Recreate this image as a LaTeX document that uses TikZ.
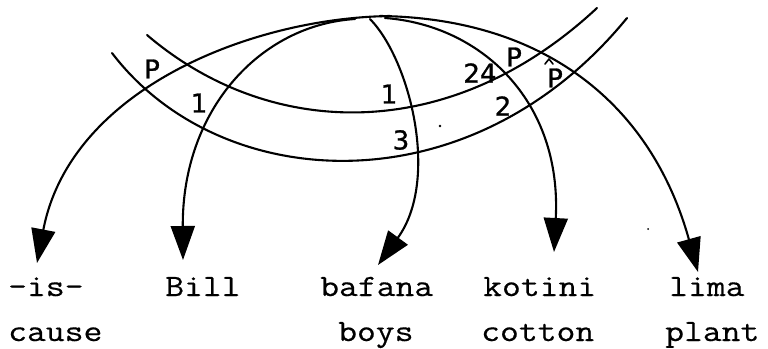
\documentclass[tikz,border=0pt]{standalone}
\usepackage{fontspec}
\newfontfamily\handfont{DejaVu Sans}[FakeBold=1]
\newfontfamily\twfont{Latin Modern Mono}[FakeBold=0.45,FakeStretch=1.18]
\usetikzlibrary{arrows.meta}
\begin{document}
\begin{tikzpicture}[x=1pt,y=-1pt,
  ln/.style={line width=2.1pt, line cap=round},
  arr/.style={ln, -{Triangle[length=34pt,width=24pt]}},
  word/.style={anchor=base west, inner sep=0pt, font=\fontsize{31}{31}\selectfont\twfont},
  hw/.style={inner sep=0pt, font=\fontsize{26}{26}\selectfont\handfont}]
\useasboundingbox (0,0) rectangle (768,348);

% words
\node[word] (is)     at (8,296)   {-is-};
\node[word] (bill)   at (165,296) {Bill};
\node[word] (bafana) at (320,296) {bafana};
\node[word] (kotini) at (483,296) {kotini};
\node[word] (lima)   at (669,296) {lima};
\node[word] (cause)  at (8,341)   {cause};
\node[word] (boys)   at (338,341) {boys};
\node[word] (cotton) at (481,341) {cotton};
\node[word] (plant)  at (665,341) {plant};

% origins and tips
\coordinate (o1) at (390,16);
\coordinate (o2) at (355,19);
\coordinate (o3) at (370,19);
\coordinate (o4) at (385,18);
\coordinate (o5) at (380,16);
\coordinate (t1) at (37,263);
\coordinate (t2) at (183,260);
\coordinate (t3) at (378,265);
\coordinate (t4) at (554,252);
\coordinate (t5) at (698,272);

% bands
\coordinate (ua) at (147,35);
\coordinate (ub) at (597,8);
\coordinate (la) at (112,53);
\coordinate (lb) at (627,18);
\draw[ln] (ua) .. controls (270,140) and (450,145) .. (ub);
\draw[ln] (la) .. controls (220,195) and (470,210) .. (lb);

% arrows
\draw[arr] (o1) .. controls (250,18) and (70,90) .. (t1);
\draw[arr] (o2) .. controls (260,25) and (182,110) .. (t2);
\draw[arr] (o3) .. controls (410,60) and (440,180) .. (t3);
\draw[arr] (o4) .. controls (480,25) and (562,100) .. (t4);
\draw[arr] (o5) .. controls (540,18) and (650,100) .. (t5);

% handwritten labels
\node[hw] (p1)  at (152,69)  {P};
\node[hw] (n1a) at (199,103) {1};
\node[hw] (n1b) at (389,94)  {1};
\node[hw] (n3)  at (401,140) {3};
\node[hw] (n24) at (480,73)  {24};
\node[hw] (p2)  at (514,57)  {P};
\node[hw] (n2)  at (503,106) {2};
\node[hw] (p3)  at (555,78)  {P};
\draw[line width=1.6pt, line cap=round, line join=round]
  ([xshift=-10pt,yshift=14pt]p3.center) -- ([xshift=-6pt,yshift=19pt]p3.center) -- ([xshift=-2pt,yshift=14pt]p3.center);

% specks
\fill (440,126) circle (1.3pt);
\fill (648,229) circle (1pt);
\end{tikzpicture}
\end{document}
